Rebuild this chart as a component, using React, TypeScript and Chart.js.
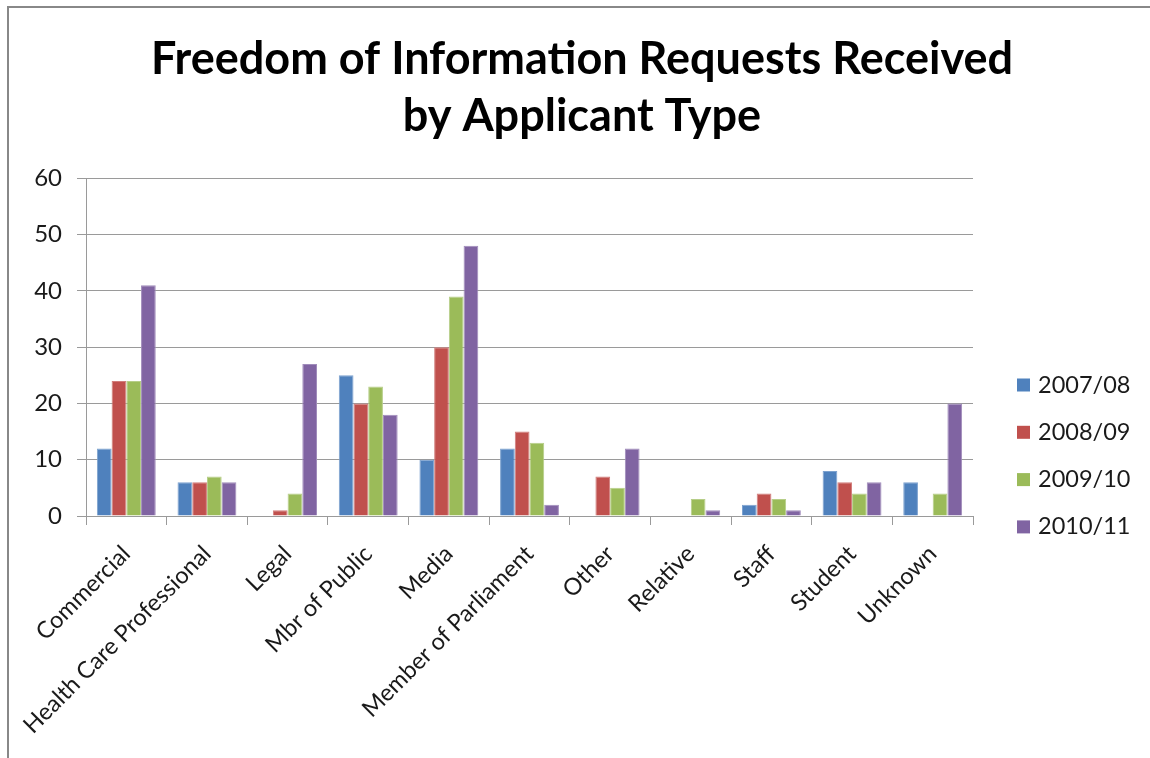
import React, { useEffect, useRef } from "react";
import { Chart, registerables } from "chart.js";

Chart.register(...registerables);

const categories = [
  "Commercial",
  "Health Care Professional",
  "Legal",
  "Mbr of Public",
  "Media",
  "Member of Parliament",
  "Other",
  "Relative",
  "Staff",
  "Student",
  "Unknown",
];
const seriesNames = ["2007/08", "2008/09", "2009/10", "2010/11"];
const values2007 = [12, 6, 0, 25, 10, 12, 0, 0, 2, 8, 6];
const values2008 = [24, 6, 1, 20, 30, 15, 7, 0, 4, 6, 0];
const values2009 = [24, 7, 4, 23, 39, 13, 5, 3, 3, 4, 4];
const values2010 = [41, 6, 27, 18, 48, 2, 12, 1, 1, 6, 20];
const yTicks = [0, 10, 20, 30, 40, 50, 60];
const titleLines = ["Freedom of Information Requests Received", "by Applicant Type"];

const colors = ["#4F81BD", "#C0504D", "#9BBB59", "#8064A2"];
const borderColors = ["#7DA2CF", "#D17D7B", "#B6CE88", "#A08CBB"];

const FONT = "Lato, 'Open Sans', sans-serif";

const sideLegend = {
  id: "sideLegend",
  afterDraw(chart: any, _args: any, opts: any) {
    const ctx = chart.ctx;
    ctx.save();
    ctx.font = `${opts.fontSize}px ${FONT}`;
    ctx.textBaseline = "alphabetic";
    ctx.textAlign = "left";
    chart.data.datasets.forEach((ds: any, i: number) => {
      const cy = opts.y + i * opts.spacing;
      ctx.fillStyle = ds.backgroundColor;
      ctx.fillRect(opts.x, cy - opts.box / 2, opts.box, opts.box);
      ctx.fillStyle = opts.color;
      ctx.fillText(ds.label, opts.textX, cy + opts.box / 2 + 1);
    });
    ctx.restore();
  },
};

export default function App() {
  const ref = useRef<HTMLCanvasElement>(null);
  useEffect(() => {
    const seriesValues = [values2007, values2008, values2009, values2010];
    const chart = new Chart(ref.current!, {
      type: "bar",
      data: {
        labels: categories,
        datasets: seriesNames.map((name, i) => ({
          label: name,
          data: seriesValues[i],
          backgroundColor: colors[i],
          borderColor: borderColors[i],
          borderWidth: 1,
          categoryPercentage: 0.73,
          barPercentage: 1.0,
          yAxisID: "y",
        })),
      },
      options: {
        responsive: false,
        animation: false,
        layout: { padding: { left: 14, right: 0, top: 0, bottom: 0 } },
        plugins: {
          legend: { display: false },
          tooltip: { enabled: false },
          title: {
            display: true,
            text: titleLines,
            color: "#000",
            font: { family: FONT, size: 45, weight: "bold", lineHeight: 1.27 },
            padding: { top: 31, bottom: 33 },
          },
          sideLegend: {
            x: 1017,
            textX: 1038,
            y: 385,
            spacing: 47.3,
            box: 13,
            fontSize: 23.5,
            color: "#1a1a1a",
          },
        } as any,
        scales: {
          x: {
            offset: true,
            grid: {
              display: true,
              offset: true,
              drawOnChartArea: false,
              drawTicks: true,
              tickLength: 9,
              color: "#9a9a9a",
            },
            border: { display: true, color: "#9a9a9a" },
            ticks: {
              minRotation: 45,
              maxRotation: 45,
              autoSkip: false,
              padding: 15,
              color: "#1a1a1a",
              font: { family: FONT, size: 23.5 },
            },
            afterFit: (s: any) => {
              s.height = 242;
            },
          },
          y: {
            min: 0,
            max: 60,
            afterBuildTicks: (s: any) => {
              s.ticks = yTicks.map((v) => ({ value: v }));
            },
            grid: {
              color: "#9a9a9a",
              drawTicks: true,
              tickLength: 9,
            },
            border: { display: true, color: "#9a9a9a" },
            ticks: {
              padding: 15,
              color: "#1a1a1a",
              font: { family: FONT, size: 24 },
            },
            afterFit: (s: any) => {
              s.width = 72;
            },
          },
          y2: {
            position: "right",
            display: true,
            grid: { display: false, drawTicks: false },
            border: { display: false },
            ticks: { display: false },
            afterFit: (s: any) => {
              s.width = 177;
            },
          },
        },
      },
      plugins: [sideLegend],
    });
    return () => chart.destroy();
  }, []);

  return (
    <div style={{ position: "fixed", left: 0, top: 0, width: 1150, height: 758, background: "#fff" }}>
      <canvas ref={ref} width={1150} height={758} style={{ position: "absolute", left: 0, top: 0 }} />
      <div
        style={{
          position: "absolute",
          left: 7,
          top: 6,
          right: 0,
          bottom: 0,
          borderTop: "2px solid #888",
          borderLeft: "2px solid #888",
          pointerEvents: "none",
        }}
      />
    </div>
  );
}
